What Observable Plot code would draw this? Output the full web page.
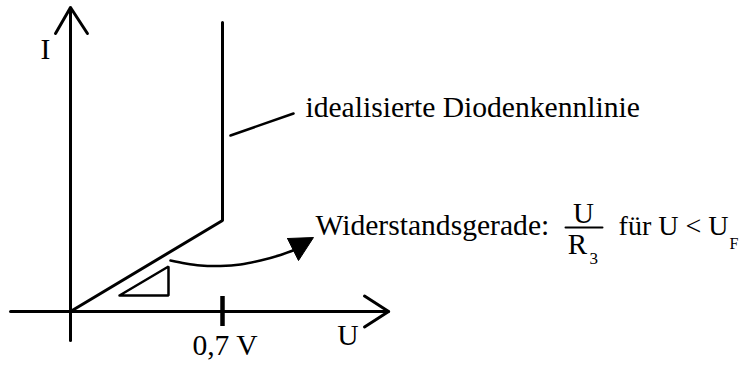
<!DOCTYPE html>
<html>
<head>
<meta charset="utf-8">
<script src="https://cdn.jsdelivr.net/npm/d3@7"></script>
<script src="https://cdn.jsdelivr.net/npm/@observablehq/plot@0.6"></script>
<style>
  html, body { margin: 0; padding: 0; background: #fff; }
  #chart svg { display: block; }
</style>
</head>
<body>
<div id="chart"></div>
<script>
// ---- data (U in volts, I in units of the knee current) ----
const uAxisU = [-0.276, 1.465];
const uArrowU = [1.354, 1.465, 1.354];
const uArrowI = [0.17, 0, -0.17];
const iAxisI = [-0.319, 3.341];
const iArrowU = [-0.069, 0, 0.078];
const iArrowI = [3.055, 3.341, 3.055];

const diodeU = [0, 0.7, 0.7];
const diodeI = [0, 1, 3.176];

const tickU = [0.7];
const tickLabels = ["0,7 V"];
const tickSpanI = [-0.165, 0.165];

const triU = [0.2257, 0.4513, 0.4513, 0.2257];
const triI = [0.176, 0.176, 0.4945, 0.176];

const curveU = [0.4605, 0.5296, 0.5987, 0.6908, 0.7829, 0.875, 0.967, 1.036];
const curveI = [0.560, 0.527, 0.505, 0.500, 0.516, 0.560, 0.621, 0.681];
const headU = [0.9994, 1.119, 1.050, 0.9994];
const headI = [0.802, 0.813, 0.560, 0.802];

const leaderU = [0.7368, 1.027];
const leaderI = [1.934, 2.176];

const fracBarU = [2.2796, 2.450];
const fracBarI = [0.923, 0.923];

const centeredLabels = [
  {U: -0.115, I: 2.78, text: "I", size: 29.6},
  {U: 1.278, I: -0.3736, text: "U", size: 29.6},
  {U: 2.3625, I: 0.978, text: "U", size: 29},
  {U: 2.335, I: 0.637, text: "R", size: 29}
];
const startLabels = [
  {U: 1.082, I: 2.132, text: "idealisierte Diodenkennlinie", size: 29.6},
  {U: 1.128, I: 0.846, text: "Widerstandsgerade:", size: 29.6},
  {U: 2.390, I: 0.527, text: "3", size: 17},
  {U: 2.524, I: 0.846, text: "für U < U", size: 28},
  {U: 3.035, I: 0.692, text: "F", size: 16}
];

const pts = (us, is) => us.map((u, k) => ({U: u, I: is[k]}));

const pxPerV = 152 / 0.7, pxPerI = 91;
const W = 753, H = 365, ox = 70, oy = 311;

const chart = Plot.plot({
  width: W, height: H,
  marginTop: 0, marginRight: 0, marginBottom: 0, marginLeft: 0,
  x: {domain: [-ox / pxPerV, (W - ox) / pxPerV], axis: null},
  y: {domain: [-(H - oy) / pxPerI, oy / pxPerI], axis: null},
  style: {fontFamily: "'Liberation Serif', 'Times New Roman', serif", background: "#fff", overflow: "visible"},
  marks: [
    // U axis
    Plot.line(pts(uAxisU, [0, 0]), {x: "U", y: "I", stroke: "#000", strokeWidth: 3}),
    Plot.line(pts(uArrowU, uArrowI), {x: "U", y: "I", stroke: "#000", strokeWidth: 3, strokeLinejoin: "miter"}),
    // I axis
    Plot.line(pts([0, 0], iAxisI), {x: "U", y: "I", stroke: "#000", strokeWidth: 3}),
    Plot.line(pts(iArrowU, iArrowI), {x: "U", y: "I", stroke: "#000", strokeWidth: 3, strokeLinejoin: "miter"}),
    // tick at 0,7 V
    Plot.ruleX(tickU, {x: d => d, y1: tickSpanI[0], y2: tickSpanI[1], stroke: "#000", strokeWidth: 4.5}),
    Plot.text(tickU, {x: d => d, y: -0.4835, dx: 2.5, text: (d, k) => tickLabels[k], fontSize: 29.6, lineAnchor: "bottom", textAnchor: "middle", fill: "#000"}),
    // idealised diode characteristic
    Plot.line(pts(diodeU, diodeI), {x: "U", y: "I", stroke: "#000", strokeWidth: 3, strokeLinejoin: "miter"}),
    // slope triangle
    Plot.line(pts(triU, triI), {x: "U", y: "I", stroke: "#000", strokeWidth: 2.5, strokeLinejoin: "miter"}),
    // curved arrow
    Plot.line(pts(curveU, curveI), {x: "U", y: "I", stroke: "#000", strokeWidth: 2.5, curve: "catmull-rom"}),
    Plot.line(pts(headU, headI), {x: "U", y: "I", stroke: "#000", fill: "#000", strokeWidth: 1}),
    // leader line
    Plot.line(pts(leaderU, leaderI), {x: "U", y: "I", stroke: "#000", strokeWidth: 2.5}),
    // fraction bar
    Plot.line(pts(fracBarU, fracBarI), {x: "U", y: "I", stroke: "#000", strokeWidth: 2}),
    // labels
    Plot.text(centeredLabels, {x: "U", y: "I", text: "text", textAnchor: "middle", fontSize: "size", lineAnchor: "bottom", fill: "#000"}),
    Plot.text(startLabels, {x: "U", y: "I", text: "text", textAnchor: "start", fontSize: "size", lineAnchor: "bottom", fill: "#000"})
  ]
});
document.getElementById("chart").appendChild(chart);
</script>
</body>
</html>
